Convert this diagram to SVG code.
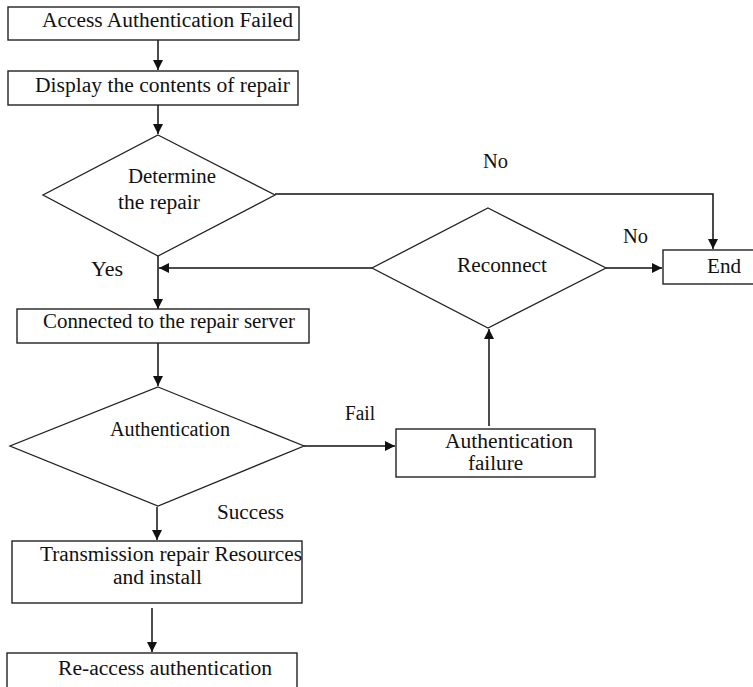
<svg xmlns="http://www.w3.org/2000/svg" width="753" height="687" viewBox="0 0 753 687">
  <style>
    .box { fill: #ffffff; stroke: #222222; stroke-width: 1.4; }
    .dia { fill: #ffffff; stroke: #222222; stroke-width: 1.3; }
    .line { fill: none; stroke: #111111; stroke-width: 1.5; }
    text { font-family: "Liberation Serif", "Times New Roman", serif; font-size: 20px; fill: #111111; }
  </style>
  <defs>
    <marker id="arrow" viewBox="0 0 10 10" refX="10" refY="5" markerWidth="10" markerHeight="10" markerUnits="userSpaceOnUse" orient="auto">
      <path d="M0,0 L10,5 L0,10 Z" fill="#111111"/>
    </marker>
  </defs>
  <rect width="753" height="687" fill="#ffffff"/>

  <!-- connectors -->
  <g id="connectors">
    <line class="line" x1="158" y1="40" x2="158" y2="70" marker-end="url(#arrow)"/>
    <line class="line" x1="158" y1="105" x2="158" y2="134" marker-end="url(#arrow)"/>
    <line class="line" x1="158" y1="256" x2="158" y2="309" marker-end="url(#arrow)"/>
    <polyline class="line" points="275,194 713,194 713,249" marker-end="url(#arrow)"/>
    <line class="line" x1="372" y1="268" x2="159" y2="268" marker-end="url(#arrow)"/>
    <line class="line" x1="606" y1="268" x2="662" y2="268" marker-end="url(#arrow)"/>
    <line class="line" x1="158" y1="343" x2="158" y2="386" marker-end="url(#arrow)"/>
    <line class="line" x1="304" y1="446" x2="395" y2="446" marker-end="url(#arrow)"/>
    <line class="line" x1="489" y1="426" x2="489" y2="329" marker-end="url(#arrow)"/>
    <line class="line" x1="157" y1="507" x2="157" y2="540" marker-end="url(#arrow)"/>
    <line class="line" x1="152" y1="608" x2="152" y2="652" marker-end="url(#arrow)"/>
    <text x="483" y="168" textLength="25" lengthAdjust="spacingAndGlyphs">No</text>
    <text x="623" y="243" textLength="25" lengthAdjust="spacingAndGlyphs">No</text>
    <text x="91" y="276" textLength="32" lengthAdjust="spacingAndGlyphs">Yes</text>
    <text x="345" y="420" textLength="30" lengthAdjust="spacingAndGlyphs">Fail</text>
    <text x="217" y="519" textLength="67" lengthAdjust="spacingAndGlyphs">Success</text>
  </g>

  <g id="access-failed">
    <rect class="box" x="8" y="7" width="291" height="33"/>
    <text x="42" y="27" textLength="251" lengthAdjust="spacingAndGlyphs">Access Authentication Failed</text>
  </g>

  <g id="display-contents">
    <rect class="box" x="8" y="71" width="290" height="34"/>
    <text x="35" y="92" textLength="255" lengthAdjust="spacingAndGlyphs">Display the contents of repair</text>
  </g>

  <g id="determine-repair">
    <polygon class="dia" points="158,135 275,195 158,256 43,195"/>
    <text x="128" y="183" textLength="88" lengthAdjust="spacingAndGlyphs">Determine</text>
    <text x="118" y="209" textLength="82" lengthAdjust="spacingAndGlyphs">the repair</text>
  </g>

  <g id="reconnect">
    <polygon class="dia" points="488,208 606,268 488,328 372,268"/>
    <text x="457" y="272" textLength="90" lengthAdjust="spacingAndGlyphs">Reconnect</text>
  </g>

  <g id="end">
    <rect class="box" x="663" y="250" width="95" height="34"/>
    <text x="707" y="273" textLength="34" lengthAdjust="spacingAndGlyphs">End</text>
  </g>

  <g id="connected-server">
    <rect class="box" x="17" y="309" width="292" height="34"/>
    <text x="43" y="328" textLength="252" lengthAdjust="spacingAndGlyphs">Connected to the repair server</text>
  </g>

  <g id="authentication">
    <polygon class="dia" points="158,387 304,446 158,506 10,446"/>
    <text x="110" y="436" textLength="120" lengthAdjust="spacingAndGlyphs">Authentication</text>
  </g>

  <g id="auth-failure">
    <rect class="box" x="396" y="429" width="199" height="48"/>
    <text x="445" y="448" textLength="128" lengthAdjust="spacingAndGlyphs">Authentication</text>
    <text x="468" y="470" textLength="55" lengthAdjust="spacingAndGlyphs">failure</text>
  </g>

  <g id="transmission">
    <rect class="box" x="12" y="541" width="290" height="62"/>
    <text x="40" y="561" textLength="262" lengthAdjust="spacingAndGlyphs">Transmission repair Resources</text>
    <text x="113" y="584" textLength="89" lengthAdjust="spacingAndGlyphs">and install</text>
  </g>

  <g id="re-access">
    <rect class="box" x="7" y="653" width="290" height="40"/>
    <text x="58" y="675" textLength="214" lengthAdjust="spacingAndGlyphs">Re-access authentication</text>
  </g>
</svg>
